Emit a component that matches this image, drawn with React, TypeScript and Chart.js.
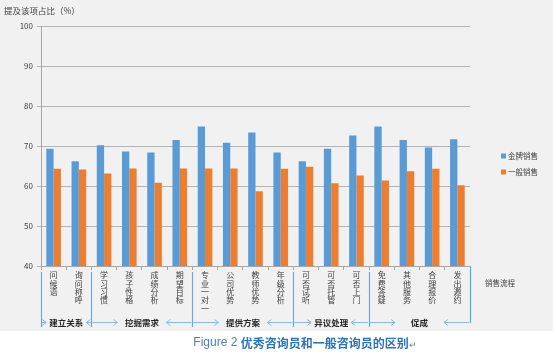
import React, { useEffect, useRef } from "react";
import { Chart, registerables } from "chart.js";

Chart.register(...registerables);

const categories = [
  "问候语", "询问称呼", "学习习惯", "孩子性格", "成绩分析", "期望目标",
  "专业一对一", "公司优势", "教师优势", "年级分析", "可否试听", "可否托管",
  "可否上门", "免费答疑", "其他服务", "合理报价", "发出邀约",
];
const goldSales = [69.3, 66.2, 70.2, 68.6, 68.4, 71.5, 74.9, 70.8, 73.4, 68.4, 66.2, 69.3, 72.6, 74.9, 71.5, 69.6, 71.7];
const normalSales = [64.3, 64.1, 63.1, 64.4, 60.8, 64.4, 64.4, 64.4, 58.7, 64.3, 64.8, 60.7, 62.6, 61.4, 63.7, 64.3, 60.2];
const seriesNames = ["金牌销售", "一般销售"];
const groupNames = ["建立关系", "挖掘需求", "提供方案", "异议处理", "促成"];
const groupSizes = [2, 4, 4, 3, 4];
const yTitle = "提及该项占比（%）";
const xTitle = "销售流程";
const captionPrefix = "Figure 2 ";
const captionMain = "优秀咨询员和一般咨询员的区别";

const BLUE = "#5b9bd5";
const ORANGE = "#ed7d31";
const CJK = '"Noto Sans CJK SC", "Noto Sans", sans-serif';

const decorPlugin = {
  id: "decor",
  beforeDraw(chart: any) {
    const ctx = chart.ctx;
    ctx.save();
    ctx.fillStyle = "#f1f1f1";
    ctx.fillRect(0, 0, 553, 331);
    ctx.restore();
  },
  afterDraw(chart: any) {
    const ctx = chart.ctx;
    const xs = chart.scales.x;
    const area = chart.chartArea;
    ctx.save();

    // y title
    ctx.fillStyle = "#404040";
    ctx.font = `8.5px ${CJK}`;
    ctx.textBaseline = "middle";
    ctx.textAlign = "left";
    ctx.fillText(yTitle, 4, 11);

    // legend
    const colors = [BLUE, ORANGE];
    chart.data.datasets.forEach((ds: any, i: number) => {
      const y = 156 + i * 16;
      ctx.fillStyle = colors[i];
      ctx.fillRect(501, y - 2.5, 5, 5);
      ctx.fillStyle = "#404040";
      ctx.font = `7.5px ${CJK}`;
      ctx.fillText(ds.label, 508, y);
    });

    // x title
    ctx.font = `7.5px ${CJK}`;
    ctx.fillStyle = "#404040";
    ctx.fillText(xTitle, 485, 283);

    // group brackets
    const catW = (area.right - area.left) / categories.length;
    const bounds: number[] = [0];
    groupSizes.forEach((s) => bounds.push(bounds[bounds.length - 1] + s));
    const bx = bounds.map((b) => area.left + b * catW);
    ctx.strokeStyle = "#6fa8dc";
    ctx.lineWidth = 1.2;
    bx.forEach((x, i) => {
      const last = i === bx.length - 1;
      ctx.strokeStyle = last ? "#3cb4e6" : "#6fa8dc";
      ctx.beginPath();
      ctx.moveTo(Math.round(x) + 0.5, last ? 267 : 272);
      ctx.lineTo(Math.round(x) + 0.5, last ? 323 : 327);
      ctx.stroke();
    });
    const arrowY = 322.5;
    const drawArrow = (x1: number, x2: number) => {
      // arrow from x1 to x2, head at x2
      const dir = x2 > x1 ? 1 : -1;
      ctx.beginPath();
      ctx.moveTo(x1, arrowY);
      ctx.lineTo(x2, arrowY);
      ctx.moveTo(x2 - dir * 4, arrowY - 3);
      ctx.lineTo(x2, arrowY);
      ctx.lineTo(x2 - dir * 4, arrowY + 3);
      ctx.stroke();
    };
    ctx.font = `bold 8.5px ${CJK}`;
    ctx.textAlign = "center";
    groupNames.forEach((name, i) => {
      const l = bx[i];
      const r = bx[i + 1];
      const c = (l + r) / 2;
      const w = ctx.measureText(name).width;
      ctx.fillStyle = "#262626";
      ctx.fillText(name, c, arrowY);
      ctx.strokeStyle = "#8ab8e6";
      ctx.lineWidth = 1;
      const lEnd = Math.min(c - w / 2 - 3, l + 26);
      const rEnd = Math.max(c + w / 2 + 3, r - 26);
      drawArrow(l + 1, lEnd);
      drawArrow(r - 1, rEnd);
    });

    // caption
    ctx.textAlign = "left";
    ctx.font = `12px "Liberation Sans", sans-serif`;
    const pw = ctx.measureText(captionPrefix).width;
    ctx.font = `bold 12px ${CJK}`;
    const mw = ctx.measureText(captionMain).width;
    const startX = 305 - (pw + mw + 8) / 2;
    ctx.font = `12px "Liberation Sans", sans-serif`;
    ctx.fillStyle = "#4f81bd";
    ctx.fillText(captionPrefix, startX, 343);
    ctx.font = `bold 12px ${CJK}`;
    ctx.fillStyle = "#2e74b5";
    ctx.fillText(captionMain, startX + pw, 343);
    ctx.font = `9px ${CJK}`;
    ctx.fillStyle = "#808080";
    ctx.fillText("↵", startX + pw + mw, 345);

    ctx.restore();
  },
};

export default function App() {
  const ref = useRef<HTMLCanvasElement>(null);
  useEffect(() => {
    document.body.style.margin = "0";
    const chart = new Chart(ref.current as HTMLCanvasElement, {
      type: "bar",
      data: {
        labels: categories.map((c) => c.split("")),
        datasets: [
          { label: seriesNames[0], data: goldSales, backgroundColor: BLUE },
          { label: seriesNames[1], data: normalSales, backgroundColor: ORANGE },
        ],
      },
      options: {
        animation: false,
        responsive: false,
        devicePixelRatio: 1,
        layout: { padding: { top: 26, right: 86, left: 0, bottom: 0 } },
        datasets: { bar: { categoryPercentage: 0.58, barPercentage: 1 } },
        plugins: { legend: { display: false }, tooltip: { enabled: false } },
        scales: {
          x: {
            afterFit: (s: any) => { s.height = 88; },
            grid: { display: true, drawOnChartArea: false, tickLength: 4, color: "#a6a6a6", offset: true },
            border: { color: "#a6a6a6" },
            ticks: {
              autoSkip: false, maxRotation: 0, minRotation: 0, padding: 1,
              color: "#404040",
              font: { size: 8, family: CJK, lineHeight: 1.05 },
            },
          },
          y: {
            min: 40, max: 100,
            afterFit: (s: any) => { s.width = 41; },
            grid: { color: "#b3b3b3", tickLength: 4 },
            border: { color: "#a6a6a6" },
            ticks: { stepSize: 10, padding: 4, color: "#404040", font: { size: 8, family: CJK } },
          },
        },
      },
      plugins: [decorPlugin],
    });
    return () => chart.destroy();
  }, []);
  return (
    <div style={{ position: "absolute", left: 0, top: 0, width: 556, height: 354 }}>
      <canvas ref={ref} width={556} height={354} style={{ width: 556, height: 354, display: "block" }} />
    </div>
  );
}
